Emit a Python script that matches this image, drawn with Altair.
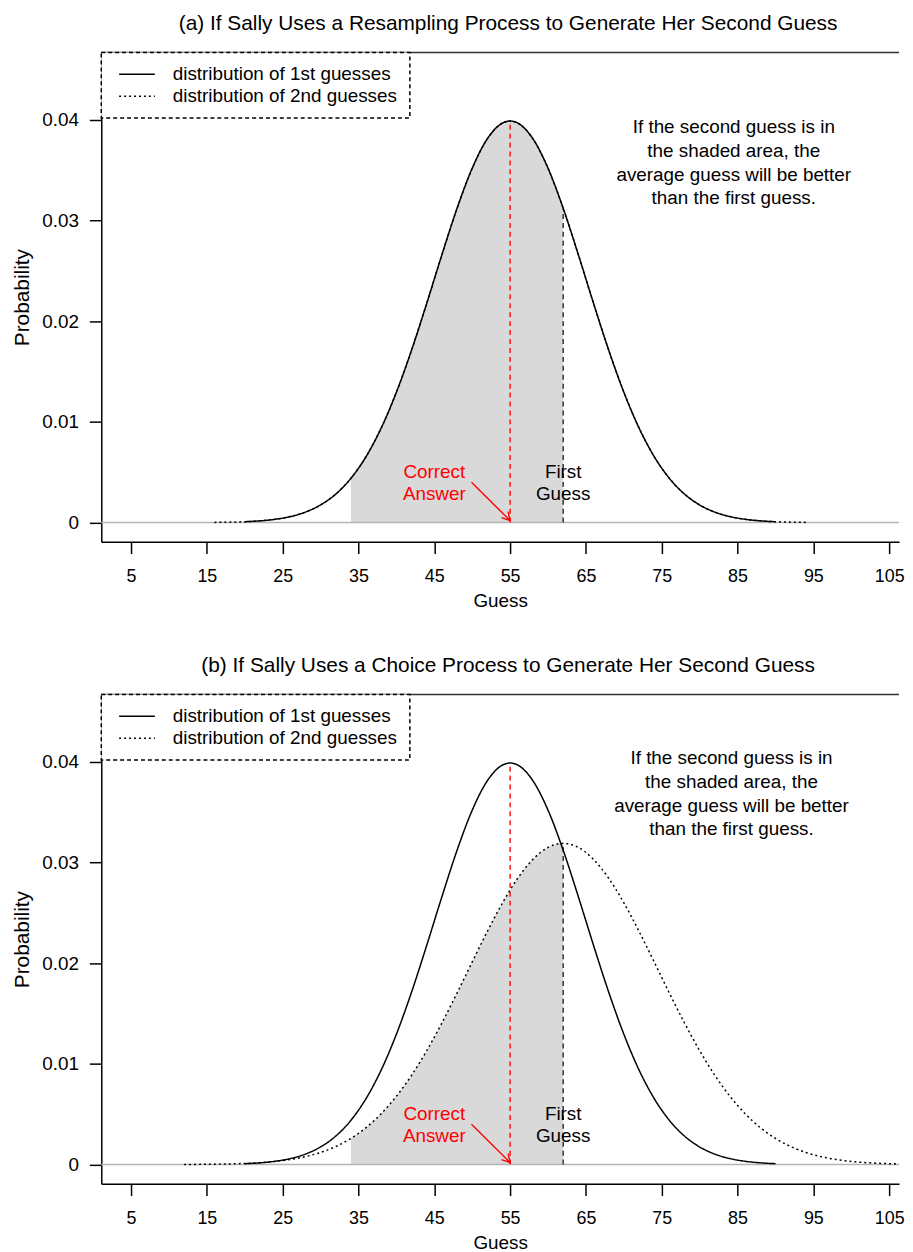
import altair as alt
import pandas as pd

FONT = "Liberation Sans"

# ---------------- data ----------------
series_names = ["distribution of 1st guesses", "distribution of 2nd guesses"]
panel_titles = [
    "(a) If Sally Uses a Resampling Process to Generate Her Second Guess",
    "(b) If Sally Uses a Choice Process to Generate Her Second Guess",
]

# distribution of 1st guesses (both panels)
first_x = [20, 22, 24, 26, 28, 30, 32, 34, 36, 38, 40, 42, 44, 46, 48, 50, 52, 54, 55,
           56, 58, 60, 62, 64, 66, 68, 70, 72, 74, 76, 78, 80, 82, 84, 86, 88, 90]
first_y = [0.0000873, 0.000172, 0.000327, 0.000595, 0.001042, 0.001753, 0.002833, 0.004398,
           0.006562, 0.009405, 0.012952, 0.017137, 0.021785, 0.026609, 0.031225, 0.035207,
           0.038138, 0.039695, 0.039894, 0.039695, 0.038138, 0.035207, 0.031225, 0.026609,
           0.021785, 0.017137, 0.012952, 0.009405, 0.006562, 0.004398, 0.002833, 0.001753,
           0.001042, 0.000595, 0.000327, 0.000172, 0.0000873]

# distribution of 2nd guesses, panel (a)
second_a_x = [16, 18, 20, 22, 24, 26, 28, 30, 32, 34, 36, 38, 40, 42, 44, 46, 48, 50, 52, 54, 55,
              56, 58, 60, 62, 64, 66, 68, 70, 72, 74, 76, 78, 80, 82, 84, 86, 88, 90, 92, 94]
second_a_y = [0.0000199, 0.0000425, 0.0000873, 0.000172, 0.000327, 0.000595, 0.001042, 0.001753,
              0.002833, 0.004398, 0.006562, 0.009405, 0.012952, 0.017137, 0.021785, 0.026609,
              0.031225, 0.035207, 0.038138, 0.039695, 0.039894, 0.039695, 0.038138, 0.035207,
              0.031225, 0.026609, 0.021785, 0.017137, 0.012952, 0.009405, 0.006562, 0.004398,
              0.002833, 0.001753, 0.001042, 0.000595, 0.000327, 0.000172, 0.0000873, 0.0000425,
              0.0000199]

# distribution of 2nd guesses, panel (b)
second_b_x = [12, 14, 16, 18, 20, 22, 24, 26, 28, 30, 32, 34, 36, 38, 40, 42, 44, 46, 48, 50,
              52, 54, 56, 58, 60, 62, 64, 66, 68, 70, 72, 74, 76, 78, 80, 82, 84, 86, 88, 90,
              92, 94, 96, 98, 100, 102, 104, 106, 108]
second_b_y = [0.0000107, 0.0000200, 0.0000366, 0.0000651, 0.000113, 0.000191, 0.000314, 0.000505,
              0.000790, 0.001205, 0.001791, 0.002596, 0.003670, 0.005053, 0.006782, 0.008873,
              0.011317, 0.014068, 0.017046, 0.020131, 0.023174, 0.026005, 0.028443, 0.030323,
              0.031509, 0.031915, 0.031509, 0.030323, 0.028443, 0.026005, 0.023174, 0.020131,
              0.017046, 0.014068, 0.011317, 0.008873, 0.006782, 0.005053, 0.003670, 0.002596,
              0.001791, 0.001205, 0.000790, 0.000505, 0.000314, 0.000191, 0.000113, 0.0000651,
              0.0000366]

x_ticks = [5, 15, 25, 35, 45, 55, 65, 75, 85, 95, 105]
y_ticks = [0, 0.01, 0.02, 0.03, 0.04]

correct_answer = 55
first_guess = 62
shade_from = 34
correct_top = [0.0399, 0.0399]
first_guess_top = [0.0312, 0.0319]

note_text = "If the second guess is in\nthe shaded area, the\naverage guess will be better\nthan the first guess."
note_x = [84.5, 84.2]
note_y = [0.0393, 0.0404]      # first line of the note
label_y = 0.0050               # first line of the two-line labels
correct_label = "Correct\nAnswer"
correct_label_x = 45
first_label = "First\nGuess"
first_label_x = 62
arrow_from = [49.9, 0.0040]
arrow_to = [55.0, 0.0002]

x_domain = [1.07, 106.3]
y_domain = [-0.0019, 0.0467]

# ---------------- chart ----------------
xscale = alt.Scale(domain=x_domain, nice=False, zero=False)
yscale = alt.Scale(domain=y_domain, nice=False, zero=False)

xaxis = alt.Axis(values=x_ticks, grid=False, tickSize=12, tickWidth=1.5, tickColor="black",
                 domainColor="black", domainWidth=1.5, labelFontSize=18, labelColor="black",
                 labelPadding=14, titleFontSize=19, titleFontWeight="normal", titleColor="black",
                 titlePadding=6, labelFlush=False, labelFont=FONT, titleFont=FONT)
yaxis = alt.Axis(values=y_ticks, grid=False, tickSize=12, tickWidth=1.5, tickColor="black",
                 domainColor="black", domainWidth=1.5, labelFontSize=19, labelColor="black",
                 labelPadding=11, titleFontSize=21, titleFontWeight="normal", titleColor="black",
                 titlePadding=9, labelFlush=False, labelFont=FONT, titleFont=FONT,
                 labelExpr="datum.value == 0 ? '0' : format(datum.value, '.2f')")


def X(field="guess"):
    return alt.X(f"{field}:Q", scale=xscale, axis=xaxis, title="Guess")


def Y(field="density"):
    return alt.Y(f"{field}:Q", scale=yscale, axis=yaxis, title="Probability")


def make_panel(i, curves, shade_src):
    shade_df = pd.DataFrame(shade_src)
    shade_df = shade_df[(shade_df.guess >= shade_from) & (shade_df.guess <= first_guess)]
    shade = alt.Chart(shade_df).mark_area(color="#d9d9d9", interpolate="monotone").encode(
        x=X(), y=Y())

    zero_line = alt.Chart(pd.DataFrame({"density": [0.0]})).mark_rule(
        color="#b5b5b5", strokeWidth=1.5).encode(y=Y())

    top_line = alt.Chart(pd.DataFrame({"k": [0]})).mark_rule(
        color="#333333", strokeWidth=1.5).encode(y=alt.value(0))

    red_df = pd.DataFrame({"guess": [correct_answer], "density": [0.0], "top": [correct_top[i]]})
    red_dash = alt.Chart(red_df).mark_rule(color="#ff2020", strokeWidth=1.6,
                                            strokeDash=[5, 4]).encode(
        x=X(), y=Y(), y2="top:Q")

    fg_df = pd.DataFrame({"guess": [first_guess], "density": [0.0], "top": [first_guess_top[i]]})
    fg_dash = alt.Chart(fg_df).mark_rule(color="#404040", strokeWidth=1.6,
                                          strokeDash=[5, 4]).encode(
        x=X(), y=Y(), y2="top:Q")

    lines = alt.Chart(pd.DataFrame(curves)).mark_line(
        color="black", strokeWidth=1.5, interpolate="monotone", clip=True).encode(
        x=X(), y=Y(),
        strokeDash=alt.StrokeDash(
            "series:N",
            scale=alt.Scale(domain=series_names, range=[[1, 0], [2, 3]]),
            legend=alt.Legend(title=None, orient="none", legendX=0, legendY=0,
                              symbolType="M -2 0 L 2 0", symbolSize=324, symbolStrokeWidth=1.5,
                              symbolStrokeColor="black", labelFontSize=19, labelColor="black",
                              labelFont=FONT, labelOffset=26, labelLimit=400, padding=12,
                              rowPadding=2, symbolOffset=14,
                              fillColor="white", strokeColor="black")),
        order="ord:Q")

    note = alt.Chart(pd.DataFrame({"guess": [note_x[i]], "density": [note_y[i]],
                                   "t": [note_text]})).mark_text(
        lineBreak="\n", fontSize=19, lineHeight=24, align="center", baseline="middle",
        color="black", font=FONT).encode(x=X(), y=Y(), text="t:N")

    corr = alt.Chart(pd.DataFrame({"guess": [correct_label_x], "density": [label_y],
                                   "t": [correct_label]})).mark_text(
        lineBreak="\n", fontSize=19, lineHeight=22, align="center", baseline="middle",
        color="#ff0000", font=FONT).encode(x=X(), y=Y(), text="t:N")

    firstl = alt.Chart(pd.DataFrame({"guess": [first_label_x], "density": [label_y],
                                     "t": [first_label]})).mark_text(
        lineBreak="\n", fontSize=19, lineHeight=22, align="center", baseline="middle",
        color="black", font=FONT).encode(x=X(), y=Y(), text="t:N")

    arrow_df = pd.DataFrame({"guess": [arrow_from[0]], "density": [arrow_from[1]],
                             "g2": [arrow_to[0]], "d2": [arrow_to[1]]})
    arrow = alt.Chart(arrow_df).mark_rule(color="#ff0000", strokeWidth=1.4).encode(
        x=X(), y=Y(), x2="g2:Q", y2="d2:Q")
    head_df = pd.DataFrame({"guess": [arrow_to[0]], "density": [arrow_to[1]]})
    head = alt.Chart(head_df).mark_point(
        shape="M -0.55 -1 L 0 0 L 0.55 -1", angle=318, size=260, filled=False,
        color="#ff0000", strokeWidth=1.4, opacity=1).encode(x=X(), y=Y())

    return alt.layer(shade, zero_line, top_line, red_dash, fg_dash, lines, note, corr,
                     firstl, arrow, head).properties(
        width=804, height=493,
        title=alt.TitleParams(panel_titles[i], fontSize=21, fontWeight="normal", anchor="middle",
                              offset=18, dx=8, font=FONT, color="black"))


def curve_table(x1, y1, x2, y2):
    return {
        "guess": x1 + x2,
        "density": y1 + y2,
        "series": [series_names[0]] * len(x1) + [series_names[1]] * len(x2),
        "ord": list(range(len(x1))) + list(range(len(x2))),
    }


panel_a = make_panel(0, curve_table(first_x, first_y, second_a_x, second_a_y),
                     {"guess": first_x, "density": first_y})
panel_b = make_panel(1, curve_table(first_x, first_y, second_b_x, second_b_y),
                     {"guess": second_b_x, "density": second_b_y})

chart = alt.vconcat(panel_a, panel_b, spacing=45).resolve_scale(
    strokeDash="independent").properties(
    padding={"left": 4, "top": 0, "right": 0, "bottom": 0}
).configure(font=FONT).configure_view(stroke=None).configure_legend(
    strokeDash=[4, 3], strokeWidth=1.5)

chart.save("out.html", embed_options={"renderer": "svg", "actions": False})
